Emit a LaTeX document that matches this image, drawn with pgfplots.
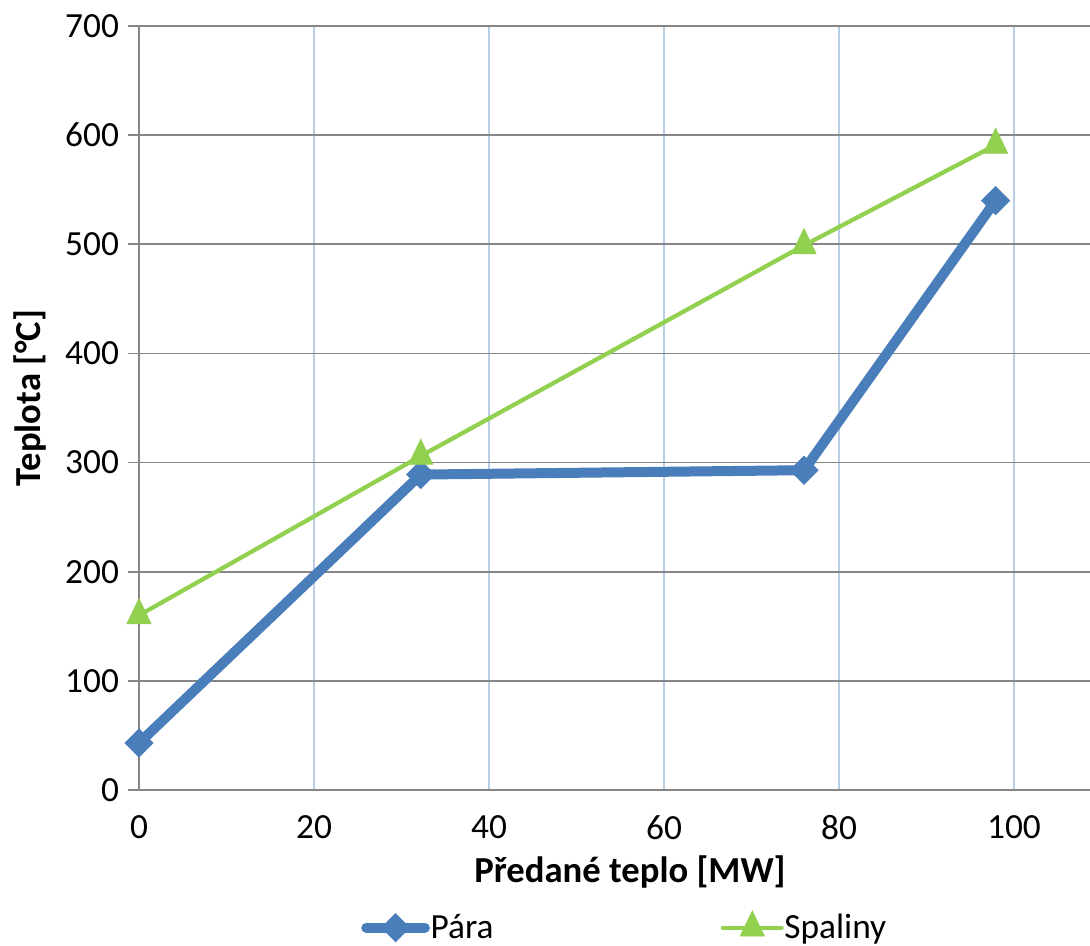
\documentclass[border=0pt]{standalone}
\usepackage{fontspec}
\setmainfont{Carlito}
\usepackage{pgfplots}
\pgfplotsset{compat=1.18}
\definecolor{para}{HTML}{4A7EBB}
\definecolor{spal}{HTML}{92D050}
\definecolor{ggray}{HTML}{868686}
\definecolor{vgrid}{HTML}{B9CDE5}
\begin{document}
\begin{tikzpicture}
\begin{axis}[
  scale only axis,
  width=713.25pt, height=573pt,
  xmin=0, xmax=108.686, ymin=0, ymax=700,
  axis x line*=bottom, axis y line*=left,
  axis line style={ggray, line width=1.3pt},
  xtick={0,20,...,100}, ytick={0,100,...,700},
  tick align=outside,
  xtick style={draw=none},
  ytick style={draw=ggray, line width=1.3pt},
  major tick length=8.25pt,
  grid=major,
  x grid style={vgrid, line width=1.2pt},
  y grid style={ggray, line width=1.2pt},
  tick label style={font=\fontsize{26.5}{30}\selectfont},
  /pgf/number format/assume math mode=true,
  yticklabel style={xshift=-3.25pt},
  xticklabel style={yshift=-7.5pt},
  xlabel={Předané teplo [MW]},
  ylabel={Teplota [°C]},
  label style={font=\bfseries\fontsize{27.5}{32}\selectfont},
  xlabel style={at={(rel axis cs:0.5163,-0.1073)}, anchor=center},
  ylabel style={at={(rel axis cs:-0.1146,0.513)}, anchor=center},
  legend columns=2,
  legend style={draw=none, fill=none, at={(rel axis cs:0.2334,-0.1785)}, anchor=west,
    inner sep=0pt, font=\fontsize{26.5}{30}\selectfont,
    nodes={inner sep=0.5pt},
    /tikz/every even column/.append style={column sep=170pt}},
  legend image code/.code={\draw[line cap=round,mark repeat=2,mark phase=2] plot coordinates {(0pt,0pt)(22pt,0pt)(44pt,0pt)};},
]
\addplot[color=para, line width=7.5pt, mark=square*, mark size=7.5pt,
  mark options={rotate=45, line width=0.5pt, fill=para, draw=para}]
  coordinates {(0,43) (32.2,289) (76,293) (97.9,540)};
\addlegendentry{Pára}
\addplot[color=spal, line width=3.2pt, mark=triangle*, mark size=10.5pt,
  mark options={yscale=1.2, line width=0.5pt, fill=spal, draw=spal}]
  coordinates {(0,160) (32.2,306) (76,499) (97.9,591)};
\addlegendentry{Spaliny}
\coordinate (bl) at (rel axis cs:-0.14616,-0.20419);
\coordinate (tr) at (rel axis cs:1,1.03403);
\end{axis}
\pgfresetboundingbox
\useasboundingbox (bl) rectangle (tr);
\end{tikzpicture}
\end{document}
